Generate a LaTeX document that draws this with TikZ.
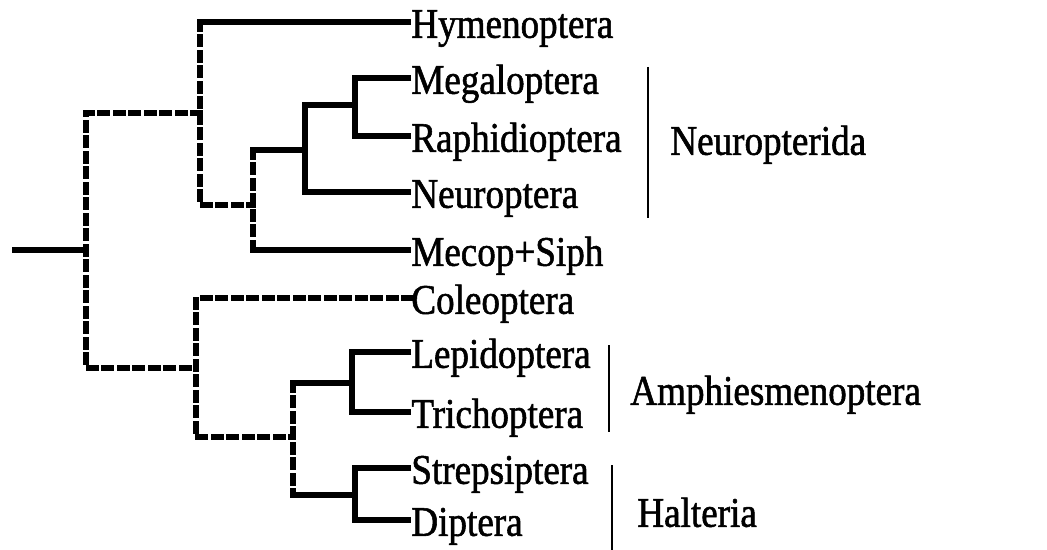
\documentclass[tikz,border=0pt]{standalone}
\usepackage{fontspec}
\setmainfont{Liberation Serif}[FakeStretch=0.88, FakeBold=1.3]
\usetikzlibrary{positioning}

\begin{document}
\begin{tikzpicture}[
  x=0.02cm, y=-0.02cm,
  branch/.style={line width=0.13cm},
  weak/.style={line width=0.13cm, line cap=rect, dash pattern=on 0.13cm off 0.18cm},
  taxon/.style={anchor=west, inner sep=0pt, text height=19pt, text depth=1pt,
                font=\fontsize{24}{28}\selectfont},
  group/.style={taxon},
  bar/.style={line width=0.9pt}
]
\useasboundingbox (0,0) rectangle (1047,550);

% leaves
\node[taxon] (hym) at (411,22)  {Hymenoptera};
\node[taxon] (meg) at (411,78)  {Megaloptera};
\node[taxon] (rap) at (411,136) {Raphidioptera};
\node[taxon] (neu) at (411,192) {Neuroptera};
\node[taxon] (mec) at (411,250) {Mecop+Siph};
\node[taxon] (col) at (411,298) {Coleoptera};
\node[taxon] (lep) at (411,352) {Lepidoptera};
\node[taxon] (tri) at (411,412) {Trichoptera};
\node[taxon] (str) at (411,468) {Strepsiptera};
\node[taxon] (dip) at (411,520) {Diptera};

% internal nodes
\coordinate (root) at (12,250);
\coordinate (n0) at (86,250);
\coordinate (n1) at (200,113);
\coordinate (n2) at (253,205);
\coordinate (n3) at (305,150);
\coordinate (n4) at (355,105);
\coordinate (n5) at (196,368);
\coordinate (n6) at (293,437);
\coordinate (n7) at (352,383);
\coordinate (n8) at (355,495);

\draw[branch] (root) -- (n0);
\draw[weak] (n1) -| (n0) |- (n5);

% upper clade
\draw[branch] (n1 |- hym.west) -- (hym.west);
\draw[weak] (n1 |- hym.west) -- (n1 |- n2) -- (n2);
\draw[weak] (n2 |- n3) -- (n2 |- mec.west);
\draw[branch] (n2 |- n3) -- (n3);
\draw[branch] (n2 |- mec.west) -- (mec.west);
\draw[branch] (n4) -| (n3) |- (neu.west);
\draw[branch] (meg.west) -| (n4) |- (rap.west);

% lower clade
\draw[weak] (col.west) -| (n5) |- (n6);
\draw[weak] (n6 |- n7) -- (n6 |- n8);
\draw[branch] (n6 |- n7) -- (n7);
\draw[branch] (n6 |- n8) -- (n8);
\draw[branch] (lep.west) -| (n7) |- (tri.west);
\draw[branch] (str.west) -| (n8) |- (dip.west);

% groups
\coordinate (neuA) at (648,67);  \coordinate (neuB) at (648,218);
\coordinate (amphA) at (609,345); \coordinate (amphB) at (609,432);
\coordinate (halA) at (612,465);  \coordinate (halB) at (612,550);
\draw[bar] (neuA) -- (neuB);
\draw[bar] (amphA) -- (amphB);
\draw[bar] (halA) -- (halB);
\node[group] (neuropterida) at (670,139) {Neuropterida};
\node[group] (amphies) at (630,389) {Amphiesmenoptera};
\node[group] (halteria) at (637,511) {Halteria};

\end{tikzpicture}
\end{document}
